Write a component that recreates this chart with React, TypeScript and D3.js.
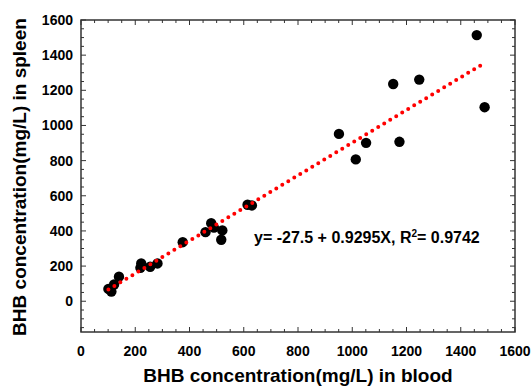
import React from "react";
import * as d3 from "d3";

// BHB in blood (x) vs spleen (y), mg/L
const bloodBHB = [101, 112, 122, 140, 219, 222, 255, 282, 375, 459, 480, 490, 521, 517, 614, 630, 951, 1013, 1051, 1151, 1174, 1247, 1459, 1488];
const spleenBHB = [70, 55, 95, 140, 190, 215, 196, 215, 336, 393, 444, 419, 403, 350, 549, 545, 952, 807, 901, 1236, 907, 1261, 1514, 1104];
const xTicks = [0, 200, 400, 600, 800, 1000, 1200, 1400, 1600];
const yTicks = [0, 200, 400, 600, 800, 1000, 1200, 1400, 1600];
const fitIntercept = -27.5;
const fitSlope = 0.9295;

const width = 531;
const height = 387;
const left = 81, right = 515, top = 20, bottom = 332;
const font = "'Liberation Sans', Arial, sans-serif";

export default function App() {
  const x = d3.scaleLinear().domain([0, 1600]).range([left, right]);
  const y = d3.scaleLinear().domain([-175, 1600]).range([bottom, top]);

  const minorX = d3.range(0, 1601, 50);
  const minorY = d3.range(-150, 1601, 50);

  const xMin = d3.min(bloodBHB)!;
  const xMax = d3.max(bloodBHB)!;
  const fitLine = d3.line<number>()
    .x(d => x(d))
    .y(d => y(fitIntercept + fitSlope * d));

  const axisColor = "#333";

  return (
    <svg width={width} height={height} style={{ position: "absolute", left: 0, top: 0, background: "#fff" }} fontFamily={font}>
      {/* frame */}
      <rect x={left} y={top} width={right - left} height={bottom - top} fill="none" stroke={axisColor} strokeWidth={1.5} />

      {/* ticks on all four sides, inward */}
      {minorX.map(v => {
        const len = v % 200 === 0 ? 5 : 3;
        return (
          <g key={"xt" + v} stroke={axisColor} strokeWidth={1}>
            <line x1={x(v)} x2={x(v)} y1={bottom} y2={bottom - len} />
            <line x1={x(v)} x2={x(v)} y1={top} y2={top + len} />
          </g>
        );
      })}
      {minorY.map(v => {
        const len = v % 200 === 0 ? 5 : 3;
        return (
          <g key={"yt" + v} stroke={axisColor} strokeWidth={1}>
            <line x1={left} x2={left + len} y1={y(v)} y2={y(v)} />
            <line x1={right} x2={right - len} y1={y(v)} y2={y(v)} />
          </g>
        );
      })}

      {/* tick labels */}
      {xTicks.map(v => (
        <text key={"xl" + v} x={x(v)} y={356} textAnchor="middle" fontSize={14} fontWeight="bold" fill="#000">{v}</text>
      ))}
      {yTicks.map(v => (
        <text key={"yl" + v} x={73} y={y(v) + 5} textAnchor="end" fontSize={14} fontWeight="bold" fill="#000">{v}</text>
      ))}

      {/* axis titles */}
      <text x={(left + right) / 2} y={382} textAnchor="middle" fontSize={19} fontWeight="bold" fill="#000">
        BHB concentration(mg/L) in blood
      </text>
      <text transform={`translate(26,177) rotate(-90)`} textAnchor="middle" fontSize={19} fontWeight="bold" fill="#000">
        BHB concentration(mg/L) in spleen
      </text>

      {/* points */}
      {bloodBHB.map((b, i) => (
        <circle key={"p" + i} cx={x(b)} cy={y(spleenBHB[i])} r={5.2} fill="#000" />
      ))}

      {/* regression line */}
      <path d={fitLine([xMin, xMax]) ?? ""} fill="none" stroke="#ff0000" strokeWidth={4} strokeLinecap="round" strokeDasharray="0 7" />

      {/* equation */}
      <text x={254} y={243} fontSize={16} fontWeight="bold" fill="#000">
        y= -27.5 + 0.9295X, R<tspan dy={-6} fontSize={10}>2</tspan><tspan dy={6}>= 0.9742</tspan>
      </text>
    </svg>
  );
}
